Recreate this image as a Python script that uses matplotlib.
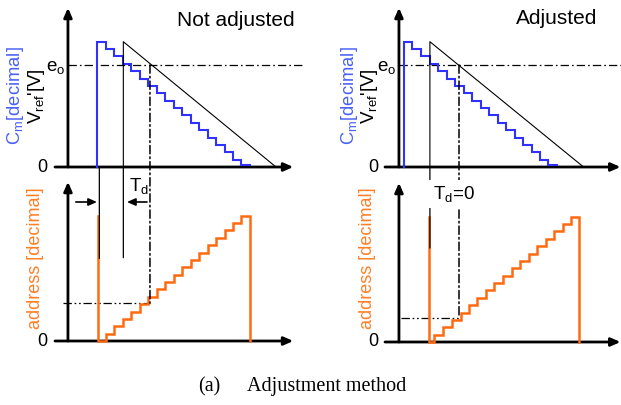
import numpy as np
import matplotlib
matplotlib.use('Agg')
import matplotlib.pyplot as plt
from matplotlib.patches import ConnectionPatch

plt.rcParams['font.family'] = 'Liberation Sans'
plt.rcParams['mathtext.fontset'] = 'custom'
plt.rcParams['mathtext.rm'] = 'Liberation Sans'
plt.rcParams['mathtext.it'] = 'Liberation Sans:italic'
plt.rcParams['lines.scale_dashes'] = False

W, H = 621, 405

# --- data (time in sample steps, values in decimal levels) ---
left_cm_edges = [0, 1, 2, 3, 4, 5, 6, 7, 8, 9, 10, 11, 12, 13, 14, 15, 16, 17, 18]
left_cm = [17, 16, 15, 14, 13, 12, 11, 10, 9, 8, 7, 6, 5, 4, 3, 2, 1, 0.3]
left_addr_edges = [0.1, 1, 2, 3, 4, 5, 6, 7, 8, 9, 10, 11, 12, 13, 14, 15, 16, 17, 18]
left_addr = [0, 1, 2, 3, 4, 5, 6, 7, 8, 9, 10, 11, 12, 13, 14, 15, 16, 17]
left_vref_t = [3.07, 3.07, 21.07]
left_vref = [0, 17, 0]

right_cm_edges = [0, 0.9, 2, 3, 4, 5, 6, 7, 8, 9, 10, 11, 12, 13, 14, 15, 16, 17, 18]
right_cm = [17, 16, 15, 14, 13, 12, 11, 10, 9, 8, 7, 6, 5, 4, 3, 2, 1, 0.3]
right_addr_edges = [2.95, 3.55, 4.6, 5.65, 6.65, 7.65, 8.6, 9.6, 10.6, 11.65,
                    12.65, 13.7, 14.7, 15.7, 16.7, 17.7, 18.7, 19.65, 20.65]
right_addr = [0, 1, 2, 3, 4, 5, 6, 7, 8, 9, 10, 11, 12, 13, 14, 15, 16, 17]
right_vref_t = [3.02, 3.02, 21.14]
right_vref = [0, 17, 0]

e_o = 13.85
left_cross_t, left_cross_addr = 6.21, 5.17
right_cross_t, right_cross_addr = 6.45, 3.3
left_td_t = 0.24

BLUE = '#3030ff'
ORANGE = '#ff6a10'
BLUE_TXT = '#4a60f5'
ORANGE_TXT = '#ff7f27'
DASHDOT = (0, (6, 2.2, 1.2, 2.2))
DASHDOT2 = (0, (6, 2, 1.2, 2, 1.2, 2))

fig = plt.figure(figsize=(W / 100, H / 100), dpi=100)

S = 8.48      # px per step
LV = 7.37     # px per level


def make_ax(px0, px1, t0px, base_px):
    # axes whose data coords are (steps, levels)
    ylo, yhi = -1, 22
    top_px = base_px - yhi * LV
    bot_px = base_px - ylo * LV
    ax = fig.add_axes([px0 / W, 1 - bot_px / H, (px1 - px0) / W, (bot_px - top_px) / H])
    ax.set_xlim((px0 - t0px) / S, (px1 - t0px) / S)
    ax.set_ylim(ylo, yhi)
    ax.axis('off')
    ax.patch.set_visible(False)
    return ax


def stair_xy(edges, levels, lead=None, tail=None):
    x = list(np.repeat(edges, 2)[1:-1])
    y = list(np.repeat(levels, 2))
    if lead is not None:
        x = [edges[0]] + x
        y = [lead] + y
    if tail is not None:
        x = x + [edges[-1]]
        y = y + [tail]
    return x, y


def axes_arrows(ax, yaxis_t):
    x0, x1 = ax.get_xlim()
    aprops = dict(arrowstyle='-|>,head_length=0.5,head_width=0.22', lw=2.0,
                  color='k', mutation_scale=11, shrinkA=0, shrinkB=0)
    ax.annotate('', xy=(x1, 0), xytext=(x0, 0), arrowprops=aprops, annotation_clip=False)
    ax.annotate('', xy=(yaxis_t, 21.6), xytext=(yaxis_t, 0), arrowprops=aprops,
                annotation_clip=False)


ax_tl = make_ax(55, 293.3, 97.3, 167)
ax_bl = make_ax(55, 293.3, 97.3, 341)
ax_tr = make_ax(385, 620.5, 404.3, 167)
ax_br = make_ax(385, 620.5, 404.3, 342)

for ax, yt in [(ax_tl, -3.46), (ax_bl, -3.46), (ax_tr, -0.63), (ax_br, -0.63)]:
    axes_arrows(ax, yt)

# top panels: C_m staircase and V_ref ramp
for ax, ed, lv, vt, vv in [(ax_tl, left_cm_edges, left_cm, left_vref_t, left_vref),
                           (ax_tr, right_cm_edges, right_cm, right_vref_t, right_vref)]:
    x, y = stair_xy(ed, lv, lead=0)
    ax.plot(x, y, color=BLUE, lw=1.5, zorder=4, solid_joinstyle='miter')
    ax.plot(vt, vv, color='k', lw=0.8, zorder=5)

# bottom panels: address staircase
for ax, ed, lv in [(ax_bl, left_addr_edges, left_addr), (ax_br, right_addr_edges, right_addr)]:
    x, y = stair_xy(ed, lv, lead=17, tail=0)
    ax.plot(x, y, color=ORANGE, lw=1.8, zorder=4, solid_joinstyle='miter')

# e_o reference lines
ax_tl.plot([-3.46, 24.1], [e_o, e_o], color='k', lw=0.9, ls=DASHDOT, clip_on=False)
ax_tr.plot([-0.63, 25.5], [e_o, e_o], color='k', lw=0.9, ls=DASHDOT, clip_on=False)
ax_bl.plot([-4.04, left_cross_t], [left_cross_addr, left_cross_addr], color='k', lw=0.9,
           ls=DASHDOT2, clip_on=False)
ax_br.plot([-0.4, right_cross_t], [right_cross_addr, right_cross_addr], color='k', lw=0.9,
           ls=DASHDOT2, clip_on=False)

# lines crossing from top to bottom panel
cons = [
    (ax_tl, ax_bl, left_cross_t, e_o, left_cross_addr, DASHDOT, 1.1),
    (ax_tr, ax_br, right_cross_t, e_o, right_cross_addr, DASHDOT, 1.1),
    (ax_tl, ax_bl, left_vref_t[0], 0, 11.3, '-', 0.9),
    (ax_tl, ax_bl, left_td_t, 0, 11.2, '-', 0.9),
    (ax_tr, ax_br, right_vref_t[0], 0, 12.75, '-', 0.9),
]
for a, b, t, ya, yb, ls, lw in cons:
    con = ConnectionPatch(xyA=(t, ya), coordsA=a.transData, xyB=(t, yb), coordsB=b.transData,
                          color='k', lw=lw, linestyle=ls)
    fig.add_artist(con)

# T_d arrows
tdp = dict(arrowstyle='-|>,head_length=0.5,head_width=0.22', lw=1.2, color='k',
           mutation_scale=10, shrinkA=0, shrinkB=0)
ax_bl.annotate('', xy=(-0.04, 18.86), xytext=(-2.53, 18.86), arrowprops=tdp)
ax_bl.annotate('', xy=(3.5, 18.86), xytext=(5.86, 18.86), arrowprops=tdp)


def ptext(px, py, s, **kw):
    return fig.text(px / W, 1 - py / H, s, ha=kw.pop('ha', 'center'),
                    va=kw.pop('va', 'center'), **kw)


ptext(236, 20, 'Not adjusted', fontsize=15)
ptext(557, 18, 'Adjusted', fontsize=15)
for px, py in [(42, 167), (42, 341), (373, 167), (373, 342)]:
    ptext(px, py, '0', fontsize=13)
for px in [65, 396]:
    ptext(px, 68, r'e$_{\mathrm{o}}$', fontsize=13.5, ha='right')
for px in [16, 349.5]:
    ptext(px, 96, r'C$_{\mathrm{m}}$[decimal]', fontsize=13.2, color=BLUE_TXT, rotation=90)
for px in [36.5, 369]:
    ptext(px, 96, r"V$_{\mathrm{ref}}$'[V]", fontsize=13.5, rotation=90)
for px in [36, 368]:
    ptext(px, 258, 'address [decimal]', fontsize=13, color=ORANGE_TXT, rotation=90)
ptext(139, 186, r'T$_{\mathrm{d}}$', fontsize=13.5)
ptext(454, 194, r'T$_{\mathrm{d}}$=0', fontsize=13.5,
      bbox=dict(facecolor='white', edgecolor='none', pad=2.5), zorder=10)

ptext(198, 387, '(a)', fontsize=14.5, family='Liberation Serif', ha='left')
ptext(247, 387, 'Adjustment method', fontsize=14.5, family='Liberation Serif', ha='left')

fig.savefig('out.png', dpi=100)
